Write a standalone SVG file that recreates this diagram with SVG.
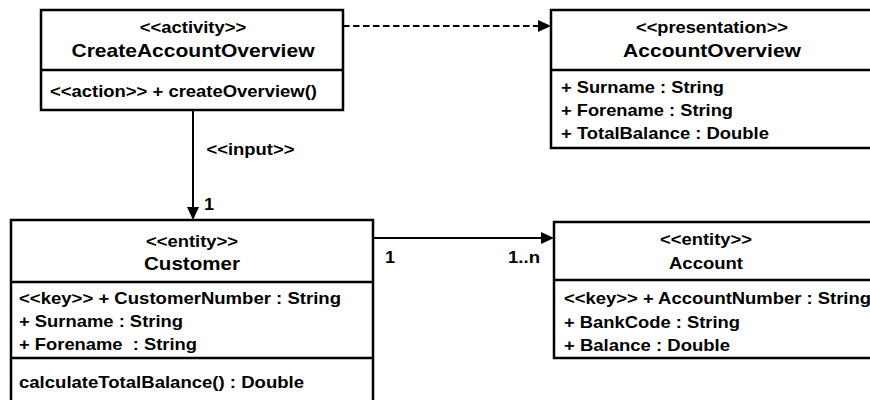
<svg xmlns="http://www.w3.org/2000/svg" width="870" height="400" viewBox="0 0 870 400">
<style>
.box{fill:#fff;stroke:#000;stroke-width:2.5}
.div{stroke:#000;stroke-width:2.5}
text{font-family:"Liberation Sans",Arial,sans-serif;font-weight:bold;fill:#000}
.t{font-size:18.6px}
.a{font-size:16.4px}
.pre{white-space:pre}
.edge{fill:none;stroke:#000;stroke-width:2}
.dash{stroke-dasharray:6.5 3.5}
</style>
<defs>
<marker id="arr" markerUnits="userSpaceOnUse" markerWidth="14" markerHeight="12" refX="0" refY="6" orient="auto">
<path d="M0,0 L13,6 L0,12 z" fill="#000"/>
</marker>
</defs>
<rect width="870" height="400" fill="#fff"/>
<g id="connectors">
<path class="edge dash" d="M343,26 L538,26" marker-end="url(#arr)"/>
<path class="edge" d="M193,110 L193,207" marker-end="url(#arr)"/>
<path class="edge" d="M373,238 L541,238" marker-end="url(#arr)"/>
<text class="a" x="206.5" y="155" textLength="88" lengthAdjust="spacingAndGlyphs">&lt;&lt;input&gt;&gt;</text>
<text class="a" x="204" y="210" textLength="10" lengthAdjust="spacingAndGlyphs">1</text>
<text class="a" x="385" y="263" textLength="10" lengthAdjust="spacingAndGlyphs">1</text>
<text class="a" x="508" y="263" textLength="32" lengthAdjust="spacingAndGlyphs">1..n</text>
</g>
<g id="CreateAccountOverview">
<rect class="box" x="41" y="10" width="302" height="100"/>
<line class="div" x1="41" y1="70" x2="343" y2="70"/>
<text class="a" x="139.8" y="33" textLength="106.4" lengthAdjust="spacingAndGlyphs">&lt;&lt;activity&gt;&gt;</text>
<text class="t" x="71.5" y="57" textLength="243" lengthAdjust="spacingAndGlyphs">CreateAccountOverview</text>
<text class="a" x="50" y="97" textLength="267" lengthAdjust="spacingAndGlyphs">&lt;&lt;action&gt;&gt; + createOverview()</text>
</g>
<g id="AccountOverview">
<rect class="box" x="551" y="10" width="325" height="138"/>
<line class="div" x1="551" y1="70" x2="876" y2="70"/>
<text class="a" x="636" y="33" textLength="152" lengthAdjust="spacingAndGlyphs">&lt;&lt;presentation&gt;&gt;</text>
<text class="t" x="623" y="57" textLength="178" lengthAdjust="spacingAndGlyphs">AccountOverview</text>
<text class="a" x="561" y="93" textLength="163" lengthAdjust="spacingAndGlyphs">+ Surname : String</text>
<text class="a" x="561" y="115.5" textLength="172" lengthAdjust="spacingAndGlyphs">+ Forename : String</text>
<text class="a" x="561" y="138.5" textLength="208" lengthAdjust="spacingAndGlyphs">+ TotalBalance : Double</text>
</g>
<g id="Customer">
<rect class="box" x="11" y="220" width="362" height="190"/>
<line class="div" x1="11" y1="282" x2="373" y2="282"/>
<line class="div" x1="11" y1="358" x2="373" y2="358"/>
<text class="a" x="146" y="246.5" textLength="92" lengthAdjust="spacingAndGlyphs">&lt;&lt;entity&gt;&gt;</text>
<text class="t" x="144" y="270" textLength="96" lengthAdjust="spacingAndGlyphs">Customer</text>
<text class="a" x="19" y="303.5" textLength="322" lengthAdjust="spacingAndGlyphs">&lt;&lt;key&gt;&gt; + CustomerNumber : String</text>
<text class="a" x="19" y="327" textLength="164" lengthAdjust="spacingAndGlyphs">+ Surname : String</text>
<text class="a pre" x="19" y="350" textLength="178" lengthAdjust="spacingAndGlyphs">+ Forename  : String</text>
<text class="a" x="19" y="388" textLength="285" lengthAdjust="spacingAndGlyphs">calculateTotalBalance() : Double</text>
</g>
<g id="Account">
<rect class="box" x="554" y="222" width="322" height="136"/>
<line class="div" x1="554" y1="280" x2="876" y2="280"/>
<text class="a" x="660" y="245" textLength="92" lengthAdjust="spacingAndGlyphs">&lt;&lt;entity&gt;&gt;</text>
<text class="a" x="669" y="268.5" textLength="74" lengthAdjust="spacingAndGlyphs">Account</text>
<text class="a" x="564" y="303.5" textLength="307" lengthAdjust="spacingAndGlyphs">&lt;&lt;key&gt;&gt; + AccountNumber : String</text>
<text class="a" x="564" y="327.5" textLength="176" lengthAdjust="spacingAndGlyphs">+ BankCode : String</text>
<text class="a" x="564" y="350.5" textLength="166" lengthAdjust="spacingAndGlyphs">+ Balance : Double</text>
</g>
</svg>
